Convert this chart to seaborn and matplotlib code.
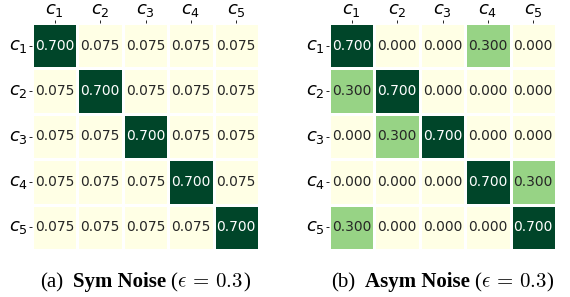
import numpy as np
import pandas as pd
import matplotlib
matplotlib.use("Agg")
import matplotlib.pyplot as plt
import seaborn as sns

plt.rcParams["font.family"] = ["DejaVu Sans"]

labels = [r"$c_1$", r"$c_2$", r"$c_3$", r"$c_4$", r"$c_5$"]
sym_rows = [
    [0.700, 0.075, 0.075, 0.075, 0.075],
    [0.075, 0.700, 0.075, 0.075, 0.075],
    [0.075, 0.075, 0.700, 0.075, 0.075],
    [0.075, 0.075, 0.075, 0.700, 0.075],
    [0.075, 0.075, 0.075, 0.075, 0.700],
]
asym_rows = [
    [0.700, 0.000, 0.000, 0.300, 0.000],
    [0.300, 0.700, 0.000, 0.000, 0.000],
    [0.000, 0.300, 0.700, 0.000, 0.000],
    [0.000, 0.000, 0.000, 0.700, 0.300],
    [0.300, 0.000, 0.000, 0.000, 0.700],
]

W, H = 570, 297
fig = plt.figure(figsize=(W / 100, H / 100), dpi=100)

def make_ax(x0, y0, x1, y1):
    return fig.add_axes([x0 / W, 1 - y1 / H, (x1 - x0) / W, (y1 - y0) / H])

ax1 = make_ax(32, 23, 259, 250)
ax2 = make_ax(329, 23, 556, 250)

for ax, rows in [(ax1, sym_rows), (ax2, asym_rows)]:
    df = pd.DataFrame(rows, index=labels, columns=labels)
    sns.heatmap(df, ax=ax, annot=True, fmt=".3f", cmap="YlGn", cbar=False,
                linewidths=1, linecolor="white",
                annot_kws={"size": 10, "family": "DejaVu Sans"})
    ax.xaxis.tick_top()
    ax.tick_params(axis="both", length=2, width=0.6, labelsize=13, pad=1)
    ax.set_xticklabels(labels, rotation=0)
    ax.set_yticklabels(labels, rotation=0)
    ax.set_xlabel("")
    ax.set_ylabel("")

fig.canvas.draw()
renderer = fig.canvas.get_renderer()

def caption(xc, ybase, parts):
    texts = []
    widths = []
    for s, kw, gap in parts:
        t = fig.text(0, 1 - ybase / H, s, va="baseline", ha="left", **kw)
        bb = t.get_window_extent(renderer)
        texts.append((t, gap))
        widths.append(bb.width)
    total = sum(widths) + sum(g for _, g in texts)
    x = xc - total / 2
    for (t, gap), w in zip(texts, widths):
        t.set_x(x / W)
        x += w + gap

FS = 15
serif = dict(family="Liberation Serif", size=FS)
serif_b = dict(family="Liberation Serif", size=FS, weight="bold")
math = dict(size=FS, math_fontfamily="cm")

caption(145, 287, [
    ("(a)", serif, 10),
    ("Sym Noise", serif_b, 4),
    ("(", serif, 0),
    (r"$\epsilon\,=\,0.3$", math, 0),
    (")", serif, 0),
])
caption(442, 287, [
    ("(b)", serif, 10),
    ("Asym Noise", serif_b, 4),
    ("(", serif, 0),
    (r"$\epsilon\,=\,0.3$", math, 0),
    (")", serif, 0),
])

fig.savefig("out.png", dpi=100)
